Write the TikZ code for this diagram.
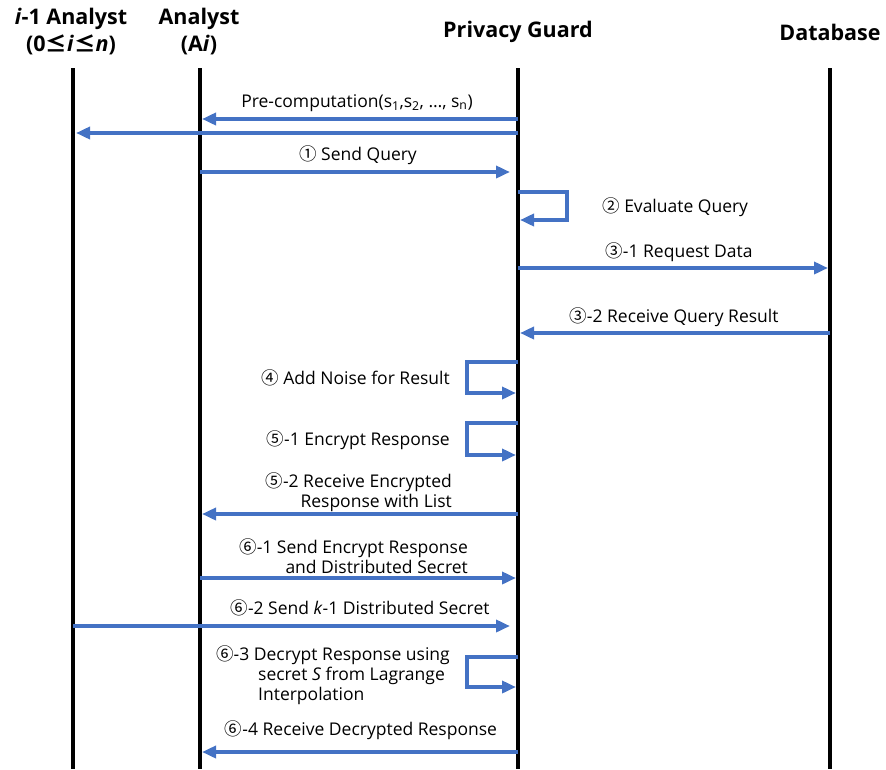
\documentclass[tikz,border=0pt]{standalone}
\usepackage{fontspec}
\setmainfont{Open Sans}
\newfontfamily\cjk{Noto Sans CJK KR}
\usetikzlibrary{arrows.meta,calc}
\definecolor{msgblue}{RGB}{68,114,196}
\newcommand{\cn}[1]{{\cjk #1}}

\begin{document}
\begin{tikzpicture}[x=1pt,y=-1pt,
   life/.style={line width=4pt,black},
   msg/.style={line width=3.5pt,msgblue,shorten >=2pt,-{Triangle[length=14pt,width=12pt]}},
   head/.style={font=\fontsize{21.5}{27}\selectfont\bfseries,align=center,inner sep=0pt},
   lbl/.style={font=\fontsize{17.5}{20}\selectfont,inner sep=0pt}]
  \useasboundingbox (0,0) rectangle (886,769);
  % headers
  \node[head] (hia) at (71,32) {\textit{i}-1 Analyst\\(0\cn{≤}\textit{i}\cn{≤}\textit{n})};
  \node[head] (han) at (199,32) {Analyst\\(A\textit{i})};
  \node[head] (hpg) at (518,32) {Privacy Guard};
  \node[head] (hdb) at (830,32) {Database};
  % lifelines
  \coordinate (ia) at (73,68);
  \coordinate (an) at (200,68);
  \coordinate (pg) at (518,68);
  \coordinate (db) at (830,68);
  \coordinate (bot) at (0,769);
  \draw[life] (ia) -- (ia |- bot);
  \draw[life] (an) -- (an |- bot);
  \draw[life] (pg) -- (pg |- bot);
  \draw[life] (db) -- (db |- bot);
  % message rows
  \coordinate (r1) at (0,119);
  \coordinate (r1b) at (0,133);
  \coordinate (r2) at (0,172);
  \coordinate (r3) at (0,192);
  \coordinate (r3b) at (0,220);
  \coordinate (r4) at (0,268);
  \coordinate (r5) at (0,333);
  \coordinate (r6) at (0,362);
  \coordinate (r6b) at (0,393);
  \coordinate (r7) at (0,423);
  \coordinate (r7b) at (0,455);
  \coordinate (r8) at (0,514);
  \coordinate (r9) at (0,578);
  \coordinate (r10) at (0,626);
  \coordinate (r11) at (0,657);
  \coordinate (r11b) at (0,687);
  \coordinate (r12) at (0,752);
  % messages
  \draw[msg] (pg |- r1) -- (an |- r1);
  \draw[msg,shorten >=3pt] (pg |- r1b) -- (ia |- r1b);
  \draw[msg,shorten >=8pt] (an |- r2) -- (pg |- r2);
  \draw[msg] (pg |- r3) -- ++(49,0) |- (pg |- r3b);
  \draw[msg] (pg |- r4) -- (db |- r4);
  \draw[msg] (db |- r5) -- (pg |- r5);
  \draw[msg] (pg |- r6) -- ++(-51,0) |- (pg |- r6b);
  \draw[msg] (pg |- r7) -- ++(-51,0) |- (pg |- r7b);
  \draw[msg] (pg |- r8) -- (an |- r8);
  \draw[msg] (an |- r9) -- (pg |- r9);
  \draw[msg,shorten >=8pt] (ia |- r10) -- (pg |- r10);
  \draw[msg] (pg |- r11) -- ++(-51,0) |- (pg |- r11b);
  \draw[msg] (pg |- r12) -- (an |- r12);
  % labels
  \node[lbl] (l1) at (357,103) {Pre-computation(s\textsubscript{1},s\textsubscript{2}, \dots, s\textsubscript{n})};
  \node[lbl] (l2) at (358,155) {\cn{①} Send Query};
  \node[lbl,anchor=west] (l3) at (602,207) {\cn{②} Evaluate Query};
  \node[lbl] (l4) at (679,252) {\cn{③}-1 Request Data};
  \node[lbl] (l5) at (674,317) {\cn{③}-2 Receive Query Result};
  \node[lbl,anchor=east] (l6) at (450,378) {\cn{④} Add Noise for Result};
  \node[lbl,anchor=east] (l7) at (450,440) {\cn{⑤}-1 Encrypt Response};
  \node[lbl,anchor=east,align=right] (l8) at (452,492) {\cn{⑤}-2 Receive Encrypted\\Response with List};
  \node[lbl,anchor=east,align=right] (l9) at (468,556) {\cn{⑥}-1 Send Encrypt Response\\and Distributed Secret};
  \node[lbl] (l10) at (360,608) {\cn{⑥}-2 Send \textit{k}-1 Distributed Secret};
  \node[lbl,anchor=west,align=left] (l11) at (216,675) {\cn{⑥}-3 Decrypt Response using\\\hspace*{42pt}secret \textit{S} from Lagrange\\\hspace*{42pt}Interpolation};
  \node[lbl] (l12) at (361,730) {\cn{⑥}-4 Receive Decrypted Response};
\end{tikzpicture}
\end{document}
